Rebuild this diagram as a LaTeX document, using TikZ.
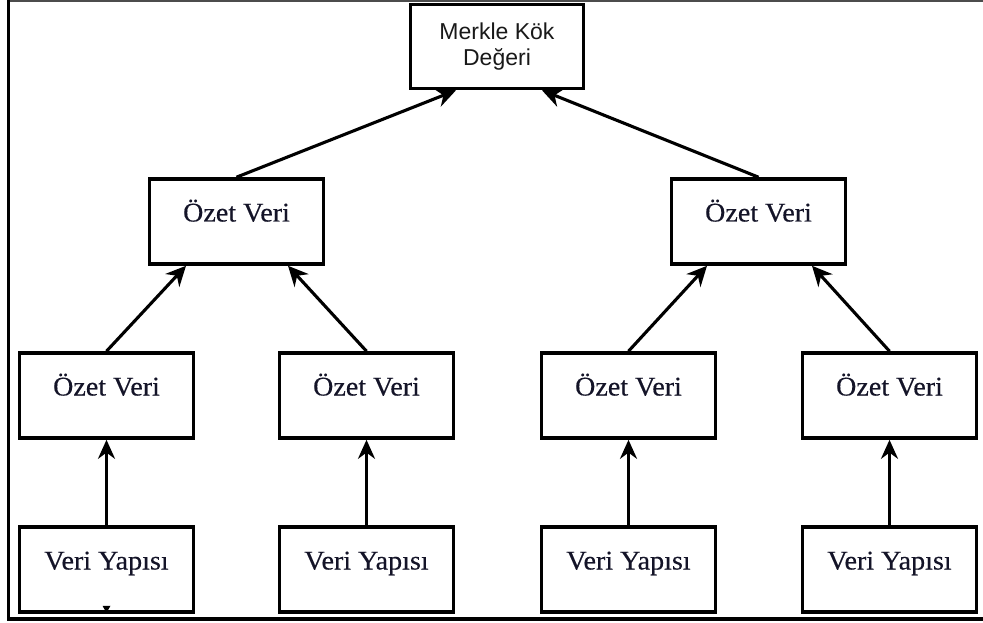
\documentclass[tikz,border=0pt]{standalone}
\usepackage{fontspec}
\setmainfont{Liberation Serif}
\newfontfamily\boxserif[FakeStretch=1.04,FakeBold=0.4]{Liberation Serif}
\newfontfamily\rootsans{Liberation Sans}
\usetikzlibrary{arrows.meta}
\definecolor{inkblue}{RGB}{20,20,40}
\definecolor{rootink}{RGB}{25,25,25}
\tikzset{
  hashbox/.style={draw=black, line width=3.6pt, fill=white,
    minimum width=174pt, inner xsep=0pt, inner ysep=0pt,
    text height=42.5pt, text depth=42.5pt,
    font=\boxserif\fontsize{27}{30}\selectfont, text=inkblue},
  rootbox/.style={draw=black, line width=3.6pt, fill=white,
    minimum width=173pt, minimum height=84pt, align=center,
    font=\rootsans\fontsize{23}{26}\selectfont, text=rootink},
  link/.style={line width=3.1pt, -{Stealth[length=20pt,width=19pt]}},
  feed/.style={line width=3.1pt, -{Stealth[length=19pt,width=17pt]}}
}
\begin{document}
\begin{tikzpicture}[x=1pt,y=-1pt]
\useasboundingbox (0,0) rectangle (983,623);
\fill[white] (0,0) rectangle (983,623);
% outer frame: top, left and bottom edges only
\draw[line width=2.4pt, black!70] (8,1.2) -- (983,1.2);
\draw[line width=3.4pt] (8.7,0) -- (8.7,620.5);
\draw[line width=3.2pt] (8,619) -- (983,619);

% root
\node[rootbox] (root) at (497,46.5) {Merkle Kök\\Değeri};

% intermediate hashes
\node[hashbox] (h1) at (236.5,221.5) {Özet Veri};
\node[hashbox] (h2) at (758.5,221.5) {Özet Veri};

% leaf hashes
\node[hashbox] (g1) at (106.5,395.5) {Özet Veri};
\node[hashbox] (g2) at (366.5,395.5) {Özet Veri};
\node[hashbox] (g3) at (628.5,395.5) {Özet Veri};
\node[hashbox] (g4) at (889.5,395.5) {Özet Veri};

% data blocks
\node[hashbox] (d1) at (106.5,569.5) {Veri Yapısı};
\node[hashbox] (d2) at (366.5,569.5) {Veri Yapısı};
\node[hashbox] (d3) at (628.5,569.5) {Veri Yapısı};
\node[hashbox] (d4) at (889.5,569.5) {Veri Yapısı};

% tiny stray tip on the first data block
\fill ([xshift=-4pt,yshift=8pt]d1.south) -- ([xshift=4pt,yshift=8pt]d1.south) -- ([yshift=1pt]d1.south) -- cycle;

% connectors
\draw[link] (h1.north) -- ([xshift=-41pt]root.south);
\draw[link] (h2.north) -- ([xshift=45pt]root.south);

\draw[link] (g1.north) -- ([xshift=-50.5pt]h1.south);
\draw[link] (g2.north) -- ([xshift=51.5pt]h1.south);
\draw[link] (g3.north) -- ([xshift=-51.5pt]h2.south);
\draw[link] (g4.north) -- ([xshift=53.5pt]h2.south);

\draw[feed] (d1.north) -- (g1.south);
\draw[feed] (d2.north) -- (g2.south);
\draw[feed] (d3.north) -- (g3.south);
\draw[feed] (d4.north) -- (g4.south);
\end{tikzpicture}
\end{document}
